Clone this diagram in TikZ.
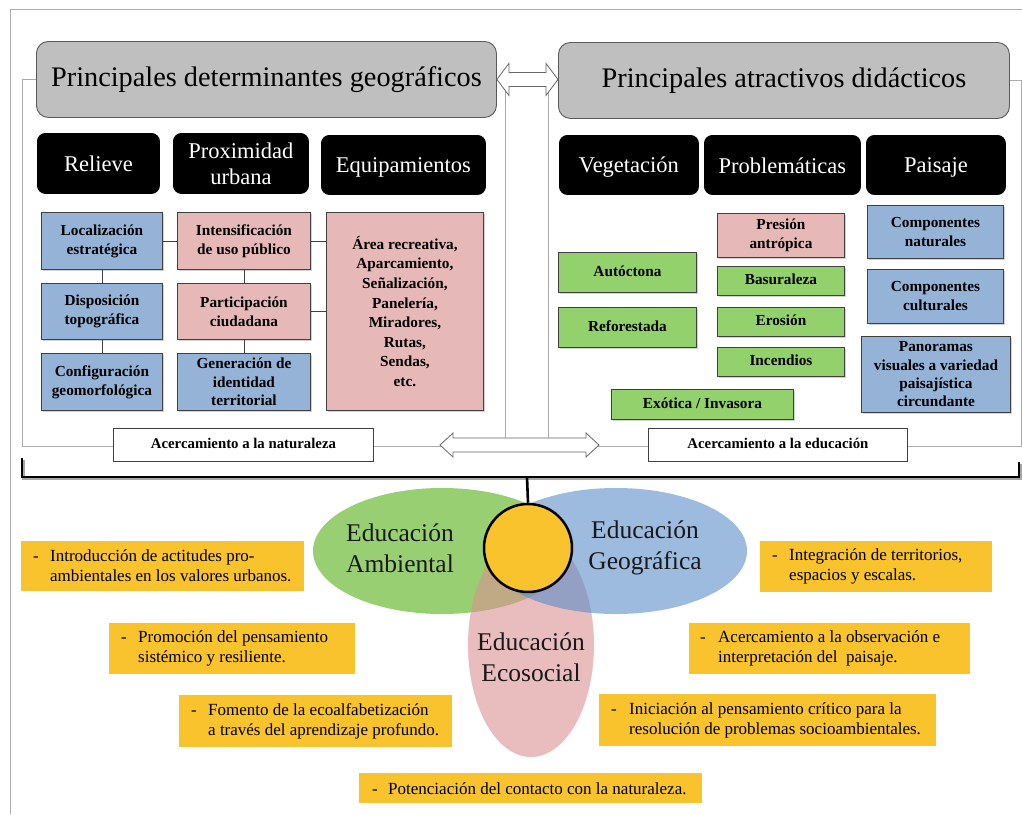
\documentclass[tikz,border=0pt]{standalone}
\usepackage{fontspec}
\setmainfont{Liberation Serif}
\usetikzlibrary{calc,shadows}
\newcommand\fsz[2]{\fontsize{#1pt}{#2pt}\selectfont}
\newcommand\hstrut{\rule[-3pt]{0pt}{23pt}}
\definecolor{ttlgray}{HTML}{BFBFBF}
\definecolor{bxblue}{HTML}{95B3D7}
\definecolor{bxpink}{HTML}{E6B9B8}
\definecolor{bxgreen}{HTML}{93D16C}
\definecolor{ygold}{HTML}{F9C32E}
\definecolor{framegray}{HTML}{ABABAB}
\definecolor{edgegray}{HTML}{404040}
\definecolor{elgreen}{HTML}{97CF72}
\definecolor{elpink}{RGB}{219,146,146}
\definecolor{elblue}{RGB}{92,140,202}
\newcommand\twoway[5]{%
  \draw[twoarrow] let \p1=(#1), \p2=(#2) in
    (\x1,\y1) -- (\x1+#3pt,\y1+#5pt) -- (\x1+#3pt,\y1+#4pt) -- (\x2-#3pt,\y1+#4pt)
    -- (\x2-#3pt,\y1+#5pt) -- (\x2,\y1) -- (\x2-#3pt,\y1-#5pt) -- (\x2-#3pt,\y1-#4pt)
    -- (\x1+#3pt,\y1-#4pt) -- (\x1+#3pt,\y1-#5pt) -- cycle;}
\begin{document}
\begin{tikzpicture}[x=1pt,y=-1pt,
  mybox/.style={anchor=north west, inner sep=1pt, align=center, draw=edgegray, line width=0.9pt},
  ttl/.style={mybox, fill=ttlgray, rounded corners=12pt, draw=black!65, font=\fsz{28.3}{32}},
  hdr/.style={mybox, fill=black, draw=black, rounded corners=8pt, text=white, font=\fsz{22.5}{26}},
  cbox/.style={mybox, font=\bfseries\fsz{15.3}{19}, drop shadow={shadow xshift=1.2pt, shadow yshift=-1.2pt, opacity=0.35}},
  bbl/.style={cbox, fill=bxblue},
  bpk/.style={cbox, fill=bxpink},
  bgr/.style={cbox, fill=bxgreen},
  acc/.style={mybox, fill=white, font=\bfseries\fsz{14.8}{17}},
  ybox/.style={anchor=north west, fill=ygold, inner sep=0pt},
  ytxt/.style={anchor=west, inner sep=0pt, align=left, font=\fsz{17}{20}},
  link/.style={draw=edgegray, line width=0.9pt},
  frame/.style={draw=framegray, line width=0.8pt},
  twoarrow/.style={draw=black!60, fill=white, line width=0.8pt},
  eltxt/.style={align=center, inner sep=0pt, text=black!90, font=\fsz{25.5}{31}}
]
\useasboundingbox (0,0) rectangle (1022,814);
\fill[white] (0,0) rectangle (1022,814);
% outer frame
\draw[frame] (10,814) -- (10,9) -- (1022,9);
% panel frames
\draw[frame] (22,79) rectangle (505,446);
\draw[frame] (548,80) rectangle (1021,446);

% title boxes
\node[ttl, minimum width=460pt, minimum height=76pt] (tl) at (36,41) {Principales determinantes geográficos};
\node[ttl, minimum width=451pt, minimum height=76pt] (tr) at (558,42) {Principales atractivos didácticos};
\twoway{tl.east}{tr.west}{12}{7}{16}

% header boxes
\node[hdr, minimum width=122pt, minimum height=60pt] (rel) at (37,133) {\hstrut Relieve};
\node[hdr, minimum width=135pt, minimum height=60pt] (prox) at (173,133) {Proximidad\\urbana};
\node[hdr, minimum width=164pt, minimum height=59pt] (equ) at (321,135) {\hstrut Equipamientos};
\node[hdr, minimum width=139pt, minimum height=59pt] (veg) at (559,135) {\hstrut Vegetación};
\node[hdr, minimum width=156pt, minimum height=59pt] (prob) at (704,135) {\hstrut Problemáticas};
\node[hdr, minimum width=139pt, minimum height=59pt] (pai) at (866,135) {\hstrut Paisaje};

% left content
\node[bbl, minimum width=121pt, minimum height=57pt] (loc) at (41,212) {Localización\\estratégica};
\node[bbl, minimum width=121pt, minimum height=56pt] (disp) at (41,283) {Disposición\\topográfica};
\node[bbl, minimum width=121pt, minimum height=57pt] (conf) at (41,353) {Configuración\\geomorfológica};
\node[bpk, minimum width=133pt, minimum height=57pt] (inten) at (177,212) {Intensificación\\de uso público};
\node[bpk, minimum width=133pt, minimum height=56pt] (part) at (177,283) {Participación\\ciudadana};
\node[bbl, minimum width=133pt, minimum height=57pt, font=\bfseries\fsz{15.3}{18.5}] (gen) at (177,353) {Generación de\\identidad\\territorial};
\node[bpk, minimum width=157pt, minimum height=198pt, font=\bfseries\fsz{15.3}{19.6}] (area) at (326,212) {Área recreativa,\\Aparcamiento,\\Señalización,\\Panelería,\\Miradores,\\Rutas,\\Sendas,\\etc.};
\draw[link] (loc.east) -- (inten.west);
\draw[link] (inten.east) -- (inten.east -| area.west);
\draw[link] (part.east) -- (part.east -| area.west);
\draw[link] (loc.south) -- (disp.north);
\draw[link] (disp.south) -- (conf.north);
\draw[link] (inten.south) -- (part.north);
\draw[link] (part.south) -- (gen.north);

% right content
\node[bpk, minimum width=127pt, minimum height=44pt] (pres) at (717,213) {Presión\\antrópica};
\node[bgr, minimum width=127pt, minimum height=29pt] (bas) at (717,266) {\strut Basuraleza};
\node[bgr, minimum width=127pt, minimum height=29pt] (ero) at (717,307) {\strut Erosión};
\node[bgr, minimum width=127pt, minimum height=29pt] (inc) at (717,347) {\strut Incendios};
\node[bgr, minimum width=138pt, minimum height=40pt] (aut) at (558,252) {\strut Autóctona};
\node[bgr, minimum width=138pt, minimum height=40pt] (ref) at (558,307) {\strut Reforestada};
\node[bgr, minimum width=182pt, minimum height=30pt] (exo) at (611,389) {\strut Exótica / Invasora};
\node[bbl, minimum width=136pt, minimum height=53pt] (cn) at (867,205) {Componentes\\naturales};
\node[bbl, minimum width=136pt, minimum height=54pt] (cc) at (867,269) {Componentes\\culturales};
\node[bbl, minimum width=149pt, minimum height=76pt, font=\bfseries\fsz{15.3}{18.3}] (pan) at (861,336) {Panoramas\\visuales a variedad\\paisajística\\circundante};

% bottom of panels
\coordinate (ba1) at (440,445);
\coordinate (ba2) at (599,445);
\twoway{ba1}{ba2}{13}{7}{12}
\node[acc, minimum width=260pt, minimum height=33pt] (an) at (113,428) {\strut Acercamiento a la naturaleza};
\node[acc, minimum width=259pt, minimum height=33pt] (ae) at (648,428) {\strut Acercamiento a la educación};

% bracket
\draw[line width=2.6pt, black!35] (23.5,459.5) -- (23.5,478.5) -- (1020.5,478.5) -- (1020.5,463.5);
\draw[line width=2.6pt] (22,458) -- (22,477) -- (1019,477) -- (1019,462);

% ellipses
\fill[elgreen] (442,551) ellipse [x radius=129pt, y radius=63pt];
\fill[elpink, fill opacity=0.6] (531,645) ellipse [x radius=63pt, y radius=112pt];
\fill[elblue, fill opacity=0.6] (616,551) ellipse [x radius=131pt, y radius=63pt];
\node[eltxt] (eamb) at (400,548) {Educación\\Ambiental};
\node[eltxt] (egeo) at (645,548) {Educación\\Geográfica};
\node[eltxt] (eeco) at (531,657) {Educación\\Ecosocial};
\node[circle, fill=ygold, draw=black, line width=2.5pt, minimum size=88pt, inner sep=0pt] (circ) at (528,548) {};
\coordinate (brk) at (527,477);
\draw[line width=2.6pt] (brk) -- (circ.north);

% yellow boxes
\node[ybox, minimum width=283pt, minimum height=50pt] (y1) at (21,541) {};
\node[ytxt] at ($(y1.west)+(12,0)$) {\makebox[17pt][l]{-}Introducción de actitudes pro-\\\hspace*{17pt}ambientales en los valores urbanos.};
\node[ybox, minimum width=246pt, minimum height=51pt] (y2) at (109,623) {};
\node[ytxt] at ($(y2.west)+(12,0)$) {\makebox[17pt][l]{-}Promoción del pensamiento\\\hspace*{17pt}sistémico y resiliente.};
\node[ybox, minimum width=273pt, minimum height=52pt] (y3) at (179,695) {};
\node[ytxt] at ($(y3.west)+(12,0)$) {\makebox[17pt][l]{-}Fomento de la ecoalfabetización\\\hspace*{17pt}a través del aprendizaje profundo.};
\node[ybox, minimum width=343pt, minimum height=30pt] (y4) at (359,773) {};
\node[ytxt] at ($(y4.west)+(13,0)$) {\makebox[16pt][l]{-}Potenciación del contacto con la naturaleza.};
\node[ybox, minimum width=232pt, minimum height=51pt] (ya) at (760,541) {};
\node[ytxt] at ($(ya.west)+(12,0)$) {\makebox[17pt][l]{-}Integración de territorios,\\\hspace*{17pt}espacios y escalas.};
\node[ybox, minimum width=281pt, minimum height=51pt] (yb) at (689,623) {};
\node[ytxt] at ($(yb.west)+(11,0)$) {\makebox[18pt][l]{-}Acercamiento a la observación e\\\hspace*{18pt}interpretación del\ \ paisaje.};
\node[ybox, minimum width=337pt, minimum height=52pt] (yc) at (599,694) {};
\node[ytxt] at ($(yc.west)+(12,0)$) {\makebox[18pt][l]{-}Iniciación al pensamiento crítico para la\\\hspace*{18pt}resolución de problemas socioambientales.};
\end{tikzpicture}
\end{document}
